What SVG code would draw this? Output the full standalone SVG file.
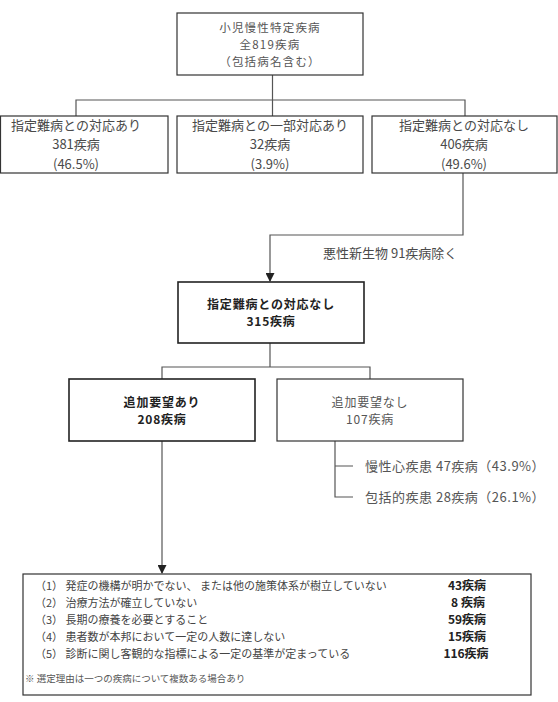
<svg xmlns="http://www.w3.org/2000/svg" width="558" height="702" viewBox="0 0 558 702">
<style>
text{font-family:"Noto Sans CJK JP","Noto Sans",sans-serif;fill:#4a4a4a;font-size:13px}
.c{text-anchor:middle}
.b{font-weight:bold;fill:#222;font-size:12px;letter-spacing:0.8px}
.t{font-size:11.5px;letter-spacing:1.2px;fill:#555}
.box{fill:#fff;stroke:#333;stroke-width:1.2}
.bx{fill:#fff;stroke:#222;stroke-width:1.6}
.ln{fill:none;stroke:#555;stroke-width:1.2}
.li{font-size:11px;fill:#444}
.ct{font-size:12px;font-weight:bold;fill:#222;text-anchor:middle}
</style>
<defs>
<marker id="arr" markerWidth="9" markerHeight="9" refX="8" refY="4.5" orient="auto" markerUnits="userSpaceOnUse">
<path d="M0,0 L9,4.5 L0,9 Z" fill="#222"/>
</marker>
</defs>
<g id="connectors">
<path class="ln" d="M272.5,75 V116 M76,116 V100 H465 V116"/>
<path class="ln" d="M463,173 V235 H270 V281" marker-end="url(#arr)"/>
<path class="ln" d="M270,343 V367 M162,379 V367 H370 V379"/>
<path class="ln" d="M162,441 V573" marker-end="url(#arr)"/>
<path class="ln" d="M335,441 V497 H353 M335,466 H353"/>
<text x="323" y="257.5">悪性新生物 91疾病除く</text>
</g>
<g id="top">
<rect class="box" x="177" y="13" width="186" height="62"/>
<text class="c t" x="270" y="31.5">小児慢性特定疾病</text>
<text class="c t" x="270" y="48.5">全819疾病</text>
<text class="c t" x="270" y="65.5">（包括病名含む）</text>
</g>
<g id="row1">
<rect class="box" x="0.5" y="116" width="167.5" height="57"/>
<text class="c" x="76" y="129.5">指定難病との対応あり</text>
<text class="c" x="76" y="148.5">381疾病</text>
<text class="c" x="76" y="168.5">(46.5%)</text>
</g>
<g id="row2">
<rect class="box" x="177" y="116" width="186" height="57"/>
<text class="c" x="270" y="129.5">指定難病との一部対応あり</text>
<text class="c" x="270" y="148.5">32疾病</text>
<text class="c" x="270" y="168.5">(3.9%)</text>
</g>
<g id="row3">
<rect class="box" x="372" y="116" width="185" height="57"/>
<text class="c" x="464" y="129.5">指定難病との対応なし</text>
<text class="c" x="464" y="148.5">406疾病</text>
<text class="c" x="464" y="168.5">(49.6%)</text>
</g>
<g id="no315">
<rect class="bx" x="178" y="282" width="186" height="61"/>
<text class="c b" x="271" y="308.5">指定難病との対応なし</text>
<text class="c b" x="271" y="326">315疾病</text>
</g>
<g id="req">
<rect class="bx" x="69" y="379" width="186" height="62"/>
<text class="c b" x="162" y="406.5">追加要望あり</text>
<text class="c b" x="162" y="424">208疾病</text>
</g>
<g id="noreq">
<rect class="box" x="277" y="379" width="186" height="62"/>
<text class="c" x="370" y="406.5" style="fill:#555;font-size:12px;letter-spacing:0.8px">追加要望なし</text>
<text class="c" x="370" y="424" style="fill:#555;font-size:12px;letter-spacing:0.8px">107疾病</text>
</g>
<g id="heart">
<text x="365" y="470.5" style="fill:#555;letter-spacing:0.5px">慢性心疾患 47疾病（43.9%）</text>
</g>
<g id="incl">
<text x="365" y="501.5" style="fill:#555;letter-spacing:0.5px">包括的疾患 28疾病（26.1%）</text>
</g>
<g id="reasons">
<rect class="box" x="23" y="574" width="508" height="121"/>
<text class="li" x="35" y="590">（1） 発症の機構が明かでない、 または他の施策体系が樹立していない</text>
<text class="li" x="35" y="607">（2） 治療方法が確立していない</text>
<text class="li" x="35" y="624">（3） 長期の療養を必要とすること</text>
<text class="li" x="35" y="641">（4） 患者数が本邦において一定の人数に達しない</text>
<text class="li" x="35" y="657.5">（5） 診断に関し客観的な指標による一定の基準が定まっている</text>
<text class="ct" x="467" y="590">43疾病</text>
<text class="ct" x="468" y="607">8 疾病</text>
<text class="ct" x="467" y="624">59疾病</text>
<text class="ct" x="467" y="641">15疾病</text>
<text class="ct" x="466" y="657.5">116疾病</text>
<text x="25" y="682" style="font-size:9.5px;fill:#555">※ 選定理由は一つの疾病について複数ある場合あり</text>
</g>
</svg>
